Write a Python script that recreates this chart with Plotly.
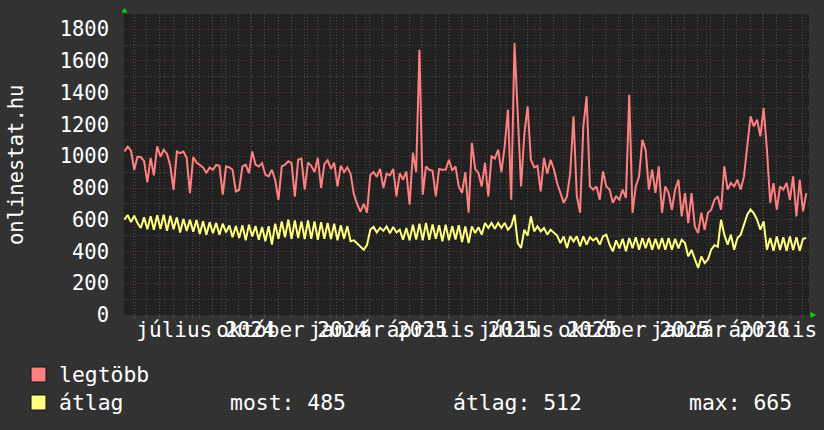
import pandas as pd
import plotly.graph_objects as go

# ---------------- data ----------------
SERIES_START = "2024-04-19"
SERIES_STEP = "84h"   # two readings per week

legtobb = [
    1030, 1060, 1035, 915, 997, 995, 970, 835, 990, 880,
    1062, 997, 1041, 1015, 940, 789, 1030, 1020, 1030, 990,
    768, 995, 960, 945, 930, 894, 930, 915, 945, 940,
    758, 936, 930, 915, 778, 789, 936, 947, 894, 1030,
    947, 936, 957, 884, 873, 915, 850, 726, 936, 947,
    968, 957, 745, 978, 985, 789, 960, 940, 900, 990,
    800, 950, 975, 920, 960, 810, 940, 900, 930, 890,
    760, 700, 650, 700, 644, 880, 900, 870, 920, 800,
    890, 880, 920, 747, 894, 852, 904, 695, 1022, 900,
    1671, 758, 936, 915, 909, 747, 920, 915, 915, 978,
    910, 936, 810, 770, 900, 644, 1085, 920, 895, 810,
    959, 747, 999, 985, 1041, 900, 1062, 1293, 726, 1713,
    1230, 810, 1140, 1314, 978, 930, 940, 779, 989, 890,
    978, 920, 831, 770, 707, 747, 894, 1251, 750, 644,
    1188, 1377, 810, 790, 810, 726, 904, 810, 790, 707,
    747, 726, 790, 737, 1387, 644, 810, 873, 1104, 1041,
    790, 915, 770, 936, 644, 810, 770, 663, 790, 852,
    621, 768, 579, 768, 558, 516, 644, 537, 644, 663,
    726, 747, 663, 936, 790, 831, 810, 852, 790, 873,
    1083, 1251, 1188, 1230, 1125, 1304, 1041, 707, 831, 663,
    810, 790, 831, 726, 873, 621, 852, 653, 768,
]

atlag = [
    600, 630, 585, 625, 580,
    548, 615, 540, 622, 537, 628, 542, 632, 530, 625, 540, 615, 520, 605, 530, 600, 525, 598,
    510, 590, 506, 585, 515, 580, 505, 575, 520, 565, 490,
    560, 485, 565, 470, 569, 495, 560, 474, 555, 464, 560, 443, 575, 480, 590,
    490, 600, 480, 595, 485, 590, 478, 595, 480, 590, 474, 585, 480, 580, 478, 575, 470, 565, 480, 560,
    465, 470, 450, 432, 411, 440,
    537, 555, 520, 550, 530, 558, 515, 555, 520,
    537, 474, 548, 470, 569, 475, 575, 470, 580, 474, 570, 480, 565, 464, 569, 470, 560, 475, 565, 460, 558, 453,
    558, 516, 553, 506, 580, 548, 580, 543, 580, 548, 580, 537, 560,
    632, 453,
    422, 537, 500, 621, 527, 558,
    527, 548, 506, 537, 516, 500,
    453, 495, 422, 495, 464, 495, 432, 495, 443, 490, 470, 485, 443, 495, 506, 443,
    401, 470, 420, 480, 401, 485, 420, 490, 411, 485, 420, 485, 411, 480, 415, 485, 411, 485, 411, 480, 420, 474, 453,
    369, 410, 348,
    296, 369, 327, 350,
    411, 440, 430,
    600, 506, 443,
    506, 411, 485, 506, 569,
    632, 665, 640, 600,
    537, 590, 411,
    485, 405, 495, 410, 490, 405, 495, 410, 490, 405, 480, 485,
]

x_label_dates = ["2024-07-15", "2024-10-15", "2025-01-15", "2025-04-15",
                 "2025-07-15", "2025-10-15", "2026-01-15", "2026-04-15"]
x_label_texts = ["július 2024", "október 2024", "január 2025", "április 2025",
                 "július 2025", "október 2025", "január 2026", "április 2026"]
y_tick_values = [0, 200, 400, 600, 800, 1000, 1200, 1400, 1600, 1800]

series_names = ["legtöbb", "átlag"]
stat_names = ["most", "átlag", "max"]
stat_values = [485, 512, 665]
y_title = "onlinestat.hu"

# ---------------- style ----------------
X_RANGE = ["2024-04-18 14:00", "2026-04-19 22:00"]
Y_MAX = 1896
FONT = "DejaVu Sans Mono"
RED = "#ff8080"
YELLOW = "#ffff80"
RED_GRID = "rgba(140,55,55,0.7)"
GREY_GRID = "rgba(90,90,90,0.75)"
PAPER = "#323232"
CANVAS = "#212121"
W, H = 824, 430
L, R, T, B = 124, 15, 14, 115
PW, PH = W - L - R, H - T - B


def px(x):
    return (x - L) / PW


def py(y):
    return (H - B - y) / PH


dates_r = pd.date_range(SERIES_START, periods=len(legtobb), freq=SERIES_STEP)
dates_y = pd.date_range(SERIES_START, periods=len(atlag), freq=SERIES_STEP)

fig = go.Figure()
fig.add_trace(go.Scatter(x=dates_r, y=legtobb, mode="lines", name=series_names[0],
                         line=dict(color=RED, width=2), hoverinfo="skip"))
fig.add_trace(go.Scatter(x=dates_y, y=atlag, mode="lines", name=series_names[1],
                         line=dict(color=YELLOW, width=2), hoverinfo="skip"))
# carrier for the label axis
fig.add_trace(go.Scatter(x=[X_RANGE[0]], y=[None], xaxis="x2", mode="lines",
                         showlegend=False, hoverinfo="skip"))

fig.update_layout(
    width=W, height=H,
    margin=dict(l=L, r=R, t=T, b=B, pad=0, autoexpand=False),
    paper_bgcolor=PAPER, plot_bgcolor=CANVAS,
    showlegend=False,
    font=dict(family=FONT, size=20.5, color="#ffffff"),
    xaxis=dict(
        type="date", range=X_RANGE, tickmode="linear", tick0="2024-05-01", dtick="M1",
        showticklabels=False, showgrid=True, gridcolor=RED_GRID, griddash="1px,2px",
        gridwidth=1, ticks="outside", ticklen=3, tickcolor=RED_GRID, automargin=False,
        zeroline=False, showline=False, fixedrange=True,
        minor=dict(tick0="2024-04-29", dtick=14 * 86400000, showgrid=True,
                   gridcolor=GREY_GRID, griddash="1px,2px", gridwidth=1,
                   ticks="outside", ticklen=2, tickcolor=GREY_GRID),
    ),
    xaxis2=dict(
        type="date", range=X_RANGE, overlaying="x", anchor="y", side="bottom",
        tickmode="array", tickvals=x_label_dates, ticktext=x_label_texts,
        tickangle=0, showgrid=False, zeroline=False, showline=False, ticks="",
        ticklabeloverflow="allow", automargin=False,
        tickfont=dict(family=FONT, size=21, color="#ffffff"), fixedrange=True,
    ),
    yaxis=dict(
        range=[0, Y_MAX], tickmode="linear", tick0=0, dtick=200, automargin=False,
        showgrid=True, gridcolor=RED_GRID, griddash="1px,2px", gridwidth=1,
        zeroline=False, showline=False, ticks="", ticklabelstandoff=14,
        tickfont=dict(family=FONT, size=20.5, color="#ffffff"), fixedrange=True,
        minor=dict(dtick=100, showgrid=True, gridcolor=GREY_GRID,
                   griddash="1px,2px", gridwidth=1),
    ),
)

annotations = [
    dict(text=y_title, xref="paper", yref="paper", x=px(16), y=py(165),
         textangle=-90, showarrow=False, xanchor="center", yanchor="middle",
         font=dict(family=FONT, size=20.5, color="#ffffff")),
    dict(text=series_names[0], xref="paper", yref="paper", x=px(57), y=py(374),
         showarrow=False, xanchor="left", yanchor="middle",
         font=dict(family=FONT, size=21.4, color="#ffffff")),
    dict(text=series_names[1], xref="paper", yref="paper", x=px(57), y=py(402),
         showarrow=False, xanchor="left", yanchor="middle",
         font=dict(family=FONT, size=21.4, color="#ffffff")),
]
stat_x = [228, 451, 687]
for name, val, sx in zip(stat_names, stat_values, stat_x):
    annotations.append(dict(text=f"{name}: {val}", xref="paper", yref="paper",
                            x=px(sx), y=py(402), showarrow=False, xanchor="left",
                            yanchor="middle",
                            font=dict(family=FONT, size=21.4, color="#ffffff")))
fig.update_layout(annotations=annotations)

shapes = [
    dict(type="rect", xref="paper", yref="paper", x0=px(31), x1=px(46), y0=py(382), y1=py(367),
         fillcolor=RED, line=dict(color="#111111", width=1)),
    dict(type="rect", xref="paper", yref="paper", x0=px(31), x1=px(46), y0=py(410), y1=py(395),
         fillcolor=YELLOW, line=dict(color="#111111", width=1)),
    dict(type="path", xref="paper", yref="paper",
         path=f"M {px(121.5)} {py(12.5)} L {px(127.5)} {py(12.5)} L {px(124.5)} {py(8)} Z",
         fillcolor="#00e000", line=dict(color="#00e000", width=0)),
    dict(type="path", xref="paper", yref="paper",
         path=f"M {px(810.5)} {py(312)} L {px(810.5)} {py(318)} L {px(816)} {py(315)} Z",
         fillcolor="#00e000", line=dict(color="#00e000", width=0)),
]
fig.update_layout(shapes=shapes)

fig.write_html("out.html", config={"displayModeBar": False})

# remove the browser's default page margin so the figure sits at (0, 0)
with open("out.html", "r", encoding="utf-8") as fh:
    page = fh.read()
page = page.replace("<body>", '<body style="margin:0;padding:0;overflow:hidden;background:#323232;">', 1)
with open("out.html", "w", encoding="utf-8") as fh:
    fh.write(page)
